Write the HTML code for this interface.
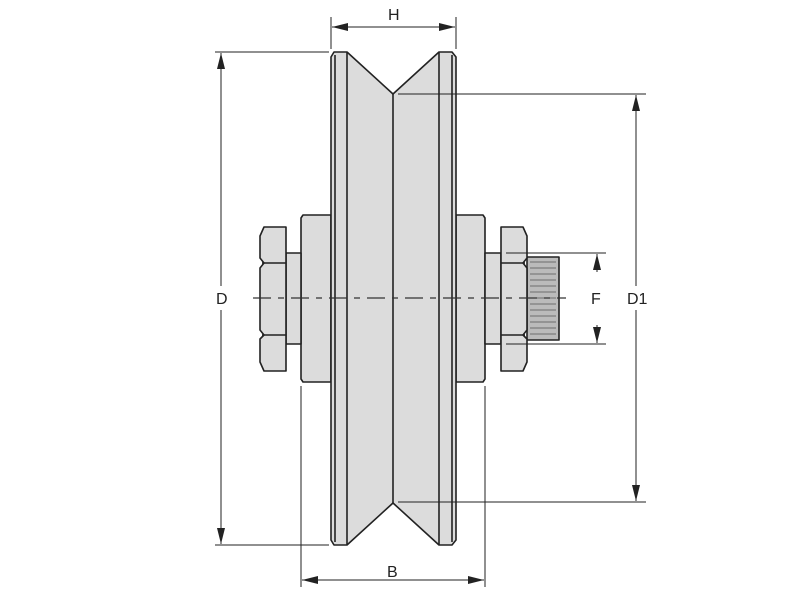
<!DOCTYPE html>
<html><head><style>body{margin:0;background:#fff}svg{display:block}text{font-family:"Liberation Sans",Arial,sans-serif;font-size:16px;fill:#222}</style></head><body>
<svg width="800" height="600" viewBox="0 0 800 600" xmlns="http://www.w3.org/2000/svg">
<defs><marker id="a" viewBox="0 0 16 8" refX="16" refY="4" markerWidth="16" markerHeight="8" orient="auto-start-reverse" markerUnits="userSpaceOnUse"><path d="M0,0 L16,4 L0,8 z" fill="#222"/></marker></defs>
<g stroke="#222" stroke-width="1.6" fill="#dcdcdc" stroke-linejoin="round">
<path d="M303,215 L331,215 L331,382 L303,382 L301,379 L301,218 Z"/>
<path d="M456,215 L483,215 L485,218 L485,379 L483,382 L456,382 Z"/>
<rect x="286" y="253" width="15" height="91"/>
<rect x="485" y="253" width="16" height="91"/>
<rect x="527" y="257" width="32" height="83" fill="#bbb"/>
<path d="M264,227 L286,227 L286,371 L264,371 L260,362 L260,339 L264,335 L260,330 L260,268 L264,263 L260,258 L260,236 Z"/>
<path d="M501,227 L523,227 L527,236 L527,258 L523,263 L527,268 L527,330 L523,335 L527,339 L527,362 L523,371 L501,371 Z"/>
<line x1="262" y1="263" x2="286" y2="263"/><line x1="262" y1="335" x2="286" y2="335"/>
<line x1="501" y1="263" x2="525" y2="263"/><line x1="501" y1="335" x2="525" y2="335"/>
<path d="M334,52 L347,52 L393,94 L439,52 L452,52 L456,57 L456,540 L452,545 L439,545 L393,503 L347,545 L334,545 L331,540 L331,57 Z"/>
<line x1="335" y1="55" x2="335" y2="542"/><line x1="347" y1="52" x2="347" y2="545"/>
<line x1="393" y1="94" x2="393" y2="503"/>
<line x1="439" y1="52" x2="439" y2="545"/><line x1="452" y1="55" x2="452" y2="542"/>
</g>
<g stroke="#555" stroke-width="0.8">
<path d="M530,262 L556,262 M530,268 L556,268 M530,274 L556,274 M530,280 L556,280 M530,286 L556,286 M530,292 L556,292 M530,298 L556,298 M530,304 L556,304 M530,310 L556,310 M530,316 L556,316 M530,322 L556,322 M530,328 L556,328 M530,334 L556,334"/>
</g>
<line x1="253" y1="298" x2="566" y2="298" stroke="#333" stroke-width="1.2" stroke-dasharray="18,7,6,7"/>
<g stroke="#222" stroke-width="1" fill="none">
<line x1="215" y1="52" x2="329" y2="52"/><line x1="215" y1="545" x2="329" y2="545"/>
<line x1="221" y1="53" x2="221" y2="286" marker-start="url(#a)"/>
<line x1="221" y1="310" x2="221" y2="544" marker-end="url(#a)"/>
<line x1="398" y1="94" x2="646" y2="94"/><line x1="398" y1="502" x2="646" y2="502"/>
<line x1="636" y1="95" x2="636" y2="286" marker-start="url(#a)"/>
<line x1="636" y1="310" x2="636" y2="501" marker-end="url(#a)"/>
<line x1="506" y1="253" x2="606" y2="253"/><line x1="506" y1="344" x2="606" y2="344"/>
<line x1="597" y1="254" x2="597" y2="272" marker-start="url(#a)"/>
<line x1="597" y1="325" x2="597" y2="343" marker-end="url(#a)"/>
<line x1="301" y1="386" x2="301" y2="587"/><line x1="485" y1="386" x2="485" y2="587"/>
<line x1="302" y1="580" x2="484" y2="580" marker-start="url(#a)" marker-end="url(#a)"/>
<line x1="331" y1="17" x2="331" y2="49"/><line x1="456" y1="17" x2="456" y2="49"/>
<line x1="332" y1="27" x2="455" y2="27" marker-start="url(#a)" marker-end="url(#a)"/>
</g>
<text x="216" y="304">D</text>
<text x="627" y="304">D1</text>
<text x="591" y="304">F</text>
<text x="387" y="577">B</text>
<text x="388" y="20">H</text>
</svg>
</body></html>
